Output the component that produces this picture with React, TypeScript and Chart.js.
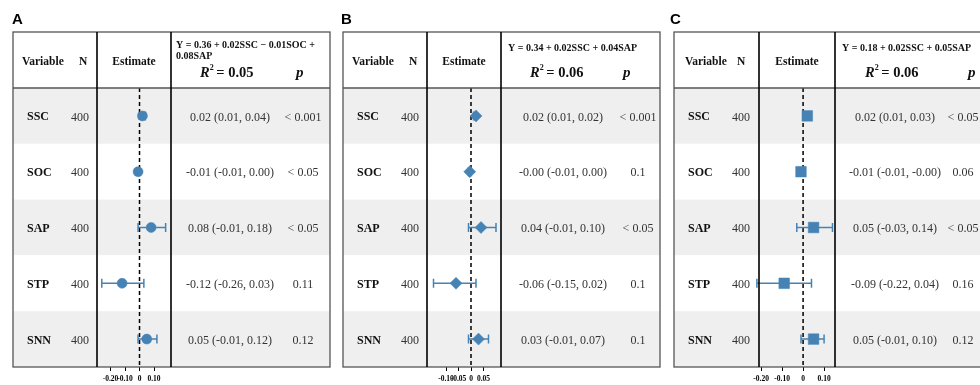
import React, { useEffect, useRef } from 'react';
import { Chart, registerables } from 'chart.js';
Chart.register(...registerables);

// ---------- data ----------
const variables = ['SSC', 'SOC', 'SAP', 'STP', 'SNN'];
const sampleN = ['400', '400', '400', '400', '400'];

const estA = [0.02, -0.01, 0.08, -0.12, 0.05];
const lowA = [0.01, -0.01, -0.01, -0.26, -0.01];
const highA = [0.04, 0.0, 0.18, 0.03, 0.12];
const ciTextA = ['0.02 (0.01, 0.04)', '-0.01 (-0.01, 0.00)', '0.08 (-0.01, 0.18)', '-0.12 (-0.26, 0.03)', '0.05 (-0.01, 0.12)'];
const pTextA = ['< 0.001', '< 0.05', '< 0.05', '0.11', '0.12'];
const eqA = ['Y = 0.36 + 0.02SSC \u2212 0.01SOC +', '0.08SAP'];
const r2A = '0.05';
const tickValsA = [-0.2, -0.1, 0, 0.1];
const tickLabelsA = ['-0.20', '-0.10', '0', '0.10'];

const estB = [0.02, -0.005, 0.04, -0.06, 0.03];
const lowB = [0.01, -0.01, -0.01, -0.15, -0.01];
const highB = [0.02, 0.0, 0.1, 0.02, 0.07];
const ciTextB = ['0.02 (0.01, 0.02)', '-0.00 (-0.01, 0.00)', '0.04 (-0.01, 0.10)', '-0.06 (-0.15, 0.02)', '0.03 (-0.01, 0.07)'];
const pTextB = ['< 0.001', '0.1', '< 0.05', '0.1', '0.1'];
const eqB = ['Y = 0.34 + 0.02SSC + 0.04SAP'];
const r2B = '0.06';
const tickValsB = [-0.1, -0.05, 0, 0.05];
const tickLabelsB = ['-0.10', '-0.05', '0', '0.05'];

const estC = [0.02, -0.01, 0.05, -0.09, 0.05];
const lowC = [0.01, -0.01, -0.03, -0.22, -0.01];
const highC = [0.03, -0.0, 0.14, 0.04, 0.1];
const ciTextC = ['0.02 (0.01, 0.03)', '-0.01 (-0.01, -0.00)', '0.05 (-0.03, 0.14)', '-0.09 (-0.22, 0.04)', '0.05 (-0.01, 0.10)'];
const pTextC = ['< 0.05', '0.06', '< 0.05', '0.16', '0.12'];
const eqC = ['Y = 0.18 + 0.02SSC + 0.05SAP'];
const r2C = '0.06';
const tickValsC = [-0.2, -0.1, 0, 0.1];
const tickLabelsC = ['-0.20', '-0.10', '0', '0.10'];

// ---------- layout / style ----------
const SERIF = '"Liberation Serif", "Times New Roman", serif';
const SANS = '"Liberation Sans", Arial, sans-serif';
const BLUE = '#4682B4';
const H = 400; // canvas height (clipped to 385)
const TABLE_TOP = 32;
const HEADER_BOTTOM = 88;
const TABLE_BOTTOM = 367;

type PanelCfg = {
  letter: string; ox: number; w: number; tableLeft: number; c1: number; c2: number; tableRight: number;
  letterX: number; ciX: number; pX: number; pHeadX: number; r2X: number; nHeadDx: number; varHeadDx: number;
  min: number; max: number; pointStyle: string; radius: number;
  est: number[]; low: number[]; high: number[]; ciText: string[]; pText: string[]; eq: string[]; r2: string;
  tickVals: number[]; tickLabels: string[];
};

const panels: PanelCfg[] = [
  {
    letter: 'A', ox: 0, w: 337, tableLeft: 13, c1: 97, c2: 171, tableRight: 330,
    letterX: 12, ciX: 230, pX: 303, pHeadX: 296, r2X: 200, nHeadDx: 66, varHeadDx: 9,
    min: -0.293, max: 0.217, pointStyle: 'circle', radius: 5,
    est: estA, low: lowA, high: highA, ciText: ciTextA, pText: pTextA, eq: eqA, r2: r2A,
    tickVals: tickValsA, tickLabels: tickLabelsA,
  },
  {
    letter: 'B', ox: 337, w: 330, tableLeft: 343, c1: 427, c2: 501, tableRight: 660,
    letterX: 341, ciX: 563, pX: 638, pHeadX: 623, r2X: 530, nHeadDx: 66, varHeadDx: 9,
    min: -0.176, max: 0.12, pointStyle: 'rectRot', radius: 6,
    est: estB, low: lowB, high: highB, ciText: ciTextB, pText: pTextB, eq: eqB, r2: r2B,
    tickVals: tickValsB, tickLabels: tickLabelsB,
  },
  {
    letter: 'C', ox: 667, w: 313, tableLeft: 674, c1: 759, c2: 835, tableRight: 1000,
    letterX: 670, ciX: 895, pX: 963, pHeadX: 968, r2X: 865, nHeadDx: 63, varHeadDx: 11,
    min: -0.21, max: 0.152, pointStyle: 'rect', radius: 7.5,
    est: estC, low: lowC, high: highC, ciText: ciTextC, pText: pTextC, eq: eqC, r2: r2C,
    tickVals: tickValsC, tickLabels: tickLabelsC,
  },
];

function makePlugin(cfg: PanelCfg) {
  return {
    id: 'forestTable' + cfg.letter,
    beforeDraw(chart: any) {
      const ctx = chart.ctx;
      const ys = chart.scales.y;
      const L = cfg.tableLeft - cfg.ox;
      const R = cfg.tableRight - cfg.ox;
      ctx.save();
      ctx.fillStyle = '#ffffff';
      ctx.fillRect(0, 0, chart.width, chart.height);
      variables.forEach((_, i) => {
        const top = ys.getPixelForValue(i + 0.5);
        const bot = ys.getPixelForValue(i + 1.5);
        ctx.fillStyle = i % 2 === 0 ? '#efefef' : '#ffffff';
        ctx.fillRect(L, top, R - L, bot - top);
      });
      ctx.restore();
    },
    beforeDatasetsDraw(chart: any) {
      const ctx = chart.ctx;
      const xs = chart.scales.x;
      const ys = chart.scales.y;
      const ca = chart.chartArea;
      ctx.save();
      // zero reference line
      const x0 = xs.getPixelForValue(0);
      ctx.strokeStyle = '#000';
      ctx.lineWidth = 1.5;
      ctx.setLineDash([4, 3]);
      ctx.beginPath();
      ctx.moveTo(x0, ca.top);
      ctx.lineTo(x0, ca.bottom);
      ctx.stroke();
      ctx.setLineDash([]);
      // error bars
      ctx.strokeStyle = BLUE;
      ctx.lineWidth = 1.5;
      cfg.est.forEach((_, i) => {
        const y = ys.getPixelForValue(i + 1);
        const xl = xs.getPixelForValue(cfg.low[i]);
        const xh = xs.getPixelForValue(cfg.high[i]);
        ctx.beginPath();
        ctx.moveTo(xl, y);
        ctx.lineTo(xh, y);
        ctx.moveTo(xl, y - 4.5);
        ctx.lineTo(xl, y + 4.5);
        ctx.moveTo(xh, y - 4.5);
        ctx.lineTo(xh, y + 4.5);
        ctx.stroke();
      });
      ctx.restore();
    },
    afterDraw(chart: any) {
      const ctx = chart.ctx;
      const ys = chart.scales.y;
      const ca = chart.chartArea;
      const o = cfg.ox;
      const L = cfg.tableLeft - o;
      const R = cfg.tableRight - o;
      ctx.save();
      // borders
      ctx.strokeStyle = '#555';
      ctx.lineWidth = 1.3;
      ctx.strokeRect(L, TABLE_TOP, R - L, ca.bottom - TABLE_TOP);
      ctx.beginPath();
      ctx.moveTo(L, ca.top);
      ctx.lineTo(R, ca.top);
      ctx.stroke();
      ctx.strokeStyle = '#000';
      ctx.lineWidth = 1.6;
      ctx.beginPath();
      ctx.moveTo(ca.left, TABLE_TOP);
      ctx.lineTo(ca.left, ca.bottom);
      ctx.moveTo(ca.right, TABLE_TOP);
      ctx.lineTo(ca.right, ca.bottom);
      ctx.stroke();

      // panel letter
      ctx.fillStyle = '#000';
      ctx.textBaseline = 'alphabetic';
      ctx.textAlign = 'left';
      ctx.font = `bold 15px ${SANS}`;
      ctx.fillText(cfg.letter, cfg.letterX - o, 23.5);

      // header
      ctx.fillStyle = '#111';
      ctx.textBaseline = 'middle';
      ctx.font = `bold 11.5px ${SERIF}`;
      ctx.fillText('Variable', L + cfg.varHeadDx, 62);
      ctx.fillText('N', L + cfg.nHeadDx, 62);
      ctx.textAlign = 'center';
      ctx.fillText('Estimate', (ca.left + ca.right) / 2, 62);

      ctx.textAlign = 'left';
      ctx.font = `bold 10px ${SERIF}`;
      const eqX = ca.right + 5;
      if (cfg.eq.length > 1) {
        ctx.fillText(cfg.eq[0], eqX, 45.5);
        ctx.fillText(cfg.eq[1], eqX, 56);
      } else {
        ctx.fillText(cfg.eq[0], eqX + 2, 48);
      }
      // R^2
      let rx = cfg.r2X - o;
      ctx.font = `italic bold 14.5px ${SERIF}`;
      ctx.fillText('R', rx, 73);
      rx += ctx.measureText('R').width;
      ctx.font = `bold 8px ${SERIF}`;
      ctx.fillText('2', rx, 67.5);
      rx += ctx.measureText('2').width - 1;
      ctx.font = `bold 14.5px ${SERIF}`;
      ctx.fillText(' = ' + cfg.r2, rx, 73);
      ctx.font = `italic bold 15px ${SERIF}`;
      ctx.fillText('p', cfg.pHeadX - o, 73);

      // rows
      variables.forEach((v, i) => {
        const y = ys.getPixelForValue(i + 1) + 1.5;
        ctx.textAlign = 'left';
        ctx.fillStyle = '#111';
        ctx.font = `bold 12px ${SERIF}`;
        ctx.fillText(v, L + 14, y);
        ctx.fillStyle = '#333';
        ctx.font = `12px ${SERIF}`;
        ctx.fillText(sampleN[i], L + 58, y);
        ctx.textAlign = 'center';
        ctx.fillText(cfg.ciText[i], cfg.ciX - o, y);
        ctx.fillText(cfg.pText[i], cfg.pX - o, y);
      });
      ctx.restore();
    },
  };
}

function Panel({ cfg }: { cfg: PanelCfg }) {
  const ref = useRef<HTMLCanvasElement>(null);
  useEffect(() => {
    const canvas = ref.current;
    if (!canvas) return;
    const tickLen = 4;
    const tickPad = 4;
    const tickFont = 7.5;
    const axisH = tickLen + tickFont * 1.2 + tickPad * 2;
    const chart = new Chart(canvas, {
      type: 'scatter',
      data: {
        datasets: [
          {
            data: cfg.est.map((e, i) => ({ x: e, y: i + 1 })),
            pointStyle: cfg.pointStyle as any,
            pointRadius: cfg.radius,
            pointHoverRadius: cfg.radius,
            backgroundColor: BLUE,
            borderColor: BLUE,
            borderWidth: 0.5,
          },
        ],
      },
      options: {
        animation: false,
        responsive: false,
        maintainAspectRatio: false,
        events: [],
        layout: {
          padding: {
            left: cfg.c1 - cfg.ox,
            right: cfg.w - (cfg.c2 - cfg.ox),
            top: HEADER_BOTTOM,
            bottom: H - TABLE_BOTTOM - axisH,
          },
        },
        plugins: { legend: { display: false }, tooltip: { enabled: false }, title: { display: false } },
        scales: {
          x: {
            type: 'linear',
            min: cfg.min,
            max: cfg.max,
            afterBuildTicks: (scale: any) => {
              scale.ticks = cfg.tickVals.map((v) => ({ value: v }));
            },
            ticks: {
              autoSkip: false,
              maxRotation: 0,
              minRotation: 0,
              padding: tickPad,
              color: '#000',
              font: { family: SERIF, size: tickFont, weight: 'bold' },
              callback: (_v: any, idx: number) => cfg.tickLabels[idx] ?? '',
            },
            grid: { display: true, drawOnChartArea: false, drawTicks: true, tickLength: tickLen, color: '#000', lineWidth: 1 },
            border: { display: false },
          },
          y: { type: 'linear', display: false, min: 0.5, max: 5.5, reverse: true },
        },
      } as any,
      plugins: [makePlugin(cfg)],
    });
    return () => chart.destroy();
  }, [cfg]);
  return (
    <canvas
      ref={ref}
      width={cfg.w}
      height={H}
      style={{ position: 'absolute', left: cfg.ox, top: 0, width: cfg.w, height: H }}
    />
  );
}

export default function App() {
  return (
    <div style={{ position: 'absolute', left: 0, top: 0, width: 980, height: 385, overflow: 'hidden', background: '#fff' }}>
      {panels.map((p) => (
        <Panel key={p.letter} cfg={p} />
      ))}
    </div>
  );
}
